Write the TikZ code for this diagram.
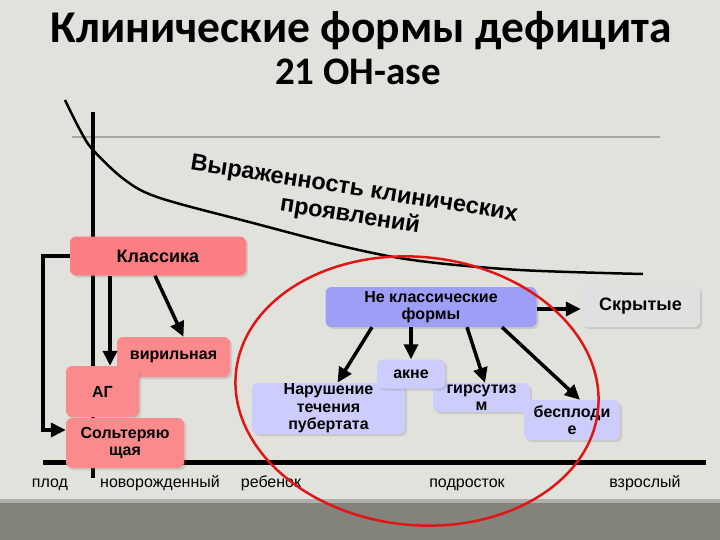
\documentclass[tikz,border=0pt]{standalone}
\usepackage{fontspec}
\setmainfont{Liberation Sans}
\newfontfamily\titlefont{Carlito}
\usetikzlibrary{arrows.meta,shadows}
\definecolor{slidebg}{HTML}{E2E2DC}
\definecolor{bandgrey}{HTML}{83837B}
\definecolor{bandlight}{HTML}{B0B0AA}
\definecolor{classred}{HTML}{FC7E82}
\definecolor{classpink}{HTML}{FA8A8C}
\definecolor{nonclass}{HTML}{9E9EF6}
\definecolor{lilac}{HTML}{CDCDFD}
\definecolor{hiddengrey}{HTML}{E0E0E0}
\definecolor{ringred}{HTML}{E01515}
\tikzset{
  box/.style={rounded corners=6pt, align=center, inner sep=1pt,
    font=\bfseries\fontsize{16}{17.5}\selectfont,
    drop shadow={shadow xshift=2pt, shadow yshift=-2pt, opacity=0.25}},
  classic/.style={box, fill=classred},
  form/.style={box, fill=classpink},
  nonclassic/.style={box, fill=nonclass},
  sign/.style={box, fill=lilac},
  arr/.style={line width=3.5pt, -{Triangle[length=15pt,width=14pt]}},
  age/.style={anchor=base, font=\fontsize{16}{18}\selectfont}
}
\begin{document}
\begin{tikzpicture}[x=1pt,y=-1pt]
    % background
    \fill[slidebg] (0,0) rectangle (720,540);
    \fill[bandlight] (0,499) rectangle (720,503);
    \fill[bandgrey] (0,503) rectangle (720,540);
    \useasboundingbox (0,0) rectangle (720,540);
    % title
    \node[font=\titlefont\bfseries\fontsize{45.5}{47}\selectfont] (title) at (361,31) {Клинические формы дефицита};
    \node[font=\titlefont\bfseries\fontsize{39}{41}\selectfont] (subtitle) at (358,72) {21 OH-ase};
    % axes
    \draw[line width=2pt, black!35] (72,137) -- (660,137);
    \draw[line width=4pt] (93,112) -- (93,478);
    \draw[line width=5pt] (43,462) -- (706,462);
    % severity curve
    \draw[line width=2.5pt] plot[smooth, tension=0.55] coordinates {(65,100) (80,130) (93,150) (125,180) (160,198) (253,223) (350,248) (420,261) (520,270) (643,274)};
    \node[font=\bfseries\fontsize{23.5}{27}\selectfont, align=center, rotate=-9] (severity) at (352,203) {Выраженность клинических\\проявлений};
    % age labels
    \node[age] (fetus) at (50,487) {плод};
    \node[age] (newborn) at (160,487) {новорожденный};
    \node[age] (child) at (271,487) {ребенок};
    \node[age] (teen) at (467,487) {подросток};
    \node[age] (adult) at (645,487) {взрослый};
    % classic forms
    \node[classic, minimum width=176pt, minimum height=39pt, font=\bfseries\fontsize{18}{20}\selectfont] (klassika) at (158,256) {Классика};
    \node[form, minimum width=113pt, minimum height=40pt] (virilnaya) at (173.5,357) {вирильная};
    \node[form, minimum width=73pt, minimum height=51pt] (ag) at (102.5,391.5) {АГ};
    \node[form, minimum width=118pt, minimum height=50pt] (salt) at (125,443) {Сольтеряю\\щая};
    % non-classic forms
    \node[nonclassic, minimum width=211pt, minimum height=40pt] (neklass) at (431,307) {Не классические\\формы};
    \node[box, fill=hiddengrey, minimum width=119pt, minimum height=41pt, font=\bfseries\fontsize{18}{20}\selectfont] (skrytye) at (640.5,306.5) {Скрытые};
    \node[sign, minimum width=153pt, minimum height=51pt] (puberty) at (328.5,408.5) {Нарушение\\течения\\пубертата};
    \node[sign, minimum width=97pt, minimum height=29pt] (hirsut) at (481.5,397.5) {гирсутиз\\м};
    \node[sign, minimum width=68pt, minimum height=29pt] (akne) at (411,374) {акне};
    \node[sign, minimum width=96pt, minimum height=40pt] (infert) at (572,420) {бесплоди\\е};
    % arrows
    \draw[arr] ([xshift=-3pt]klassika.south) -- ([xshift=10pt]virilnaya.north);
    \draw[arr] ([xshift=-48pt]klassika.south) -- ([xshift=7.5pt]ag.north);
    \draw[arr] (klassika.west) -- ++(-27,0) |- ([yshift=13pt]salt.west);
    \draw[arr] ([xshift=-59pt]neklass.south) -- ([xshift=9pt]puberty.north);
    \draw[arr] ([xshift=-20pt]neklass.south) -- (akne.north);
    \draw[arr] ([xshift=36pt]neklass.south) -- ([xshift=3.5pt]hirsut.north);
    \draw[arr] ([xshift=71pt]neklass.south) -- ([xshift=8pt]infert.north);
    \draw[arr] ([yshift=-2pt]neklass.east) -- ([yshift=-2.5pt]skrytye.west);
    % ring
    \draw[ringred, line width=2.5pt] (417,391) ellipse [x radius=182, y radius=134, rotate=-6];
\end{tikzpicture}
\end{document}
